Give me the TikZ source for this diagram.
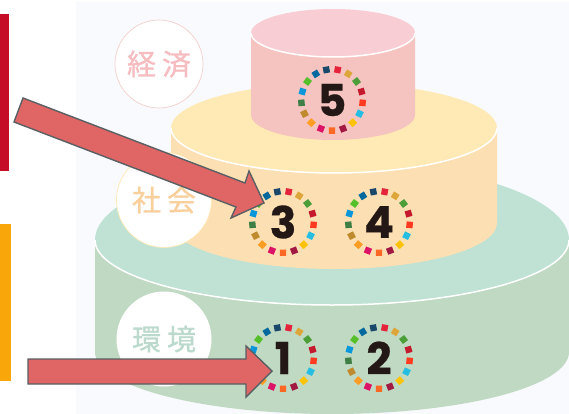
\documentclass[tikz,border=0pt]{standalone}
\usepackage{fontspec}
\usetikzlibrary{calc}
\setmainfont[BoldFeatures={FakeBold=0.6}]{Poppins}
\newfontfamily\cjk[FakeBold=0.8]{Noto Sans CJK JP}
\definecolor{bgtint}{HTML}{F8FAFD}
\definecolor{arrowfill}{HTML}{E06666}
\definecolor{arrowline}{HTML}{595F63}
\definecolor{digitink}{HTML}{231815}
\definecolor{barred}{HTML}{C60D28}
\definecolor{barorange}{HTML}{F9A60A}
\definecolor{topface}{HTML}{F8CDD3}
\definecolor{topbody}{HTML}{F6C4C0}
\definecolor{midface}{HTML}{FFE9B4}
\definecolor{midbody}{HTML}{FCE0B3}
\definecolor{lowface}{HTML}{BFE2D5}
\definecolor{lowbody}{HTML}{C0D9C3}
\definecolor{econink}{HTML}{F6BCC0}
\definecolor{socink}{HTML}{F9CF9C}
\definecolor{envink}{HTML}{BBDACD}
\definecolor{econring}{HTML}{F3CFCB}
\newcommand{\sdgring}[3]{%
  \node[digit] (#1) at (#2,#3) {#1};
  \foreach \c [count=\i from 0] in {E5243B,DDA63A,4C9F38,C5192D,FF3A21,26BDE2,FCC30B,A21942,FD6925,DD1367,FD9D24,BF8B2E,3F7E44,0A97D9,56C02B,00689D,19486A}{
    \definecolor{tile}{HTML}{\c}
    \pgfmathsetmacro{\ang}{-10.6-\i*21.176}
    \fill[tile,rotate around={\ang:(#2,#3)}] ($(#2,#3)+(-3.2,-33.9)$) rectangle ($(#2,#3)+(3.2,-27.5)$);
  }%
}
\begin{document}
\begin{tikzpicture}[x=1pt,y=-1pt,
  digit/.style={font=\fontsize{44}{44}\selectfont\bfseries,text=digitink,inner sep=0pt},
  badge/.style={circle,fill=white,minimum size=#1,inner sep=0pt,line width=.7pt},
  badgetext/.style={font=\cjk\fontsize{29}{29}\selectfont},
  blockarrow/.style={fill=arrowfill,draw=arrowline,line width=1.4pt,line join=miter},
  rimline/.style={white,line width=1.5pt}]
\useasboundingbox (0,0) rectangle (569,414);
\clip (0,0) rectangle (569,414);
\fill[white] (0,0) rectangle (569,414);
\fill[bgtint] (76,2) rectangle (569,414);
\fill[barred] (0,14) rectangle (9,171);
\fill[barorange] (0,224) rectangle (11,381);
% lower tier
\fill[lowbody] (95,240) -- (95,352) arc[start angle=180,end angle=360,x radius=237pt,y radius=62pt] -- (569,240) -- cycle;
\fill[lowface] (95,240) arc[start angle=180,end angle=0,x radius=237pt,y radius=78pt] arc[start angle=0,end angle=-180,x radius=237pt,y radius=65pt] -- cycle;
\draw[rimline] (95,240) arc[start angle=180,end angle=360,x radius=237pt,y radius=65pt];
% middle tier
\fill[midbody] (171,128) -- (171,223) arc[start angle=180,end angle=360,x radius=163pt,y radius=46pt] -- (497,128) -- cycle;
\fill[midface] (334,128) ellipse[x radius=163pt,y radius=45pt];
\draw[rimline] (171,128) arc[start angle=180,end angle=360,x radius=163pt,y radius=45pt];
% top tier
\fill[topbody] (251,33) -- (251,115) arc[start angle=180,end angle=360,x radius=82pt,y radius=25pt] -- (415,33) -- cycle;
\fill[topface] (333,33) ellipse[x radius=82pt,y radius=24pt];
\draw[rimline] (251,33) arc[start angle=180,end angle=360,x radius=82pt,y radius=24pt];
% badges
\node[badge=88pt,draw=econring] (econ) at (159,64) {};
\node[badgetext,text=econink] (econtext) at (econ.center) {経\hspace{6pt}済};
\node[badge=95pt,draw=midface] (soc) at (164,200) {};
\node[badgetext,text=socink] (soctext) at (soc.center) {社\hspace{6pt}会};
\node[badge=95pt] (env) at (164,339) {};
\node[badgetext,text=envink] (envtext) at (env.center) {環\hspace{6pt}境};
% rings
\sdgring{5}{332}{100}
\sdgring{3}{283}{222}
\sdgring{4}{379}{222}
\sdgring{1}{283}{358}
\sdgring{2}{379}{358}
% block arrows
\draw[blockarrow] (23,98) -- (245,183) -- (249,171) -- (264,203) -- (231,218) -- (236,207) -- (14,122) -- cycle;
\draw[blockarrow] (28,359) -- (246,359) -- (246,346) -- (272,371) -- (246,397) -- (246,384) -- (28,384) -- cycle;
\end{tikzpicture}
\end{document}
